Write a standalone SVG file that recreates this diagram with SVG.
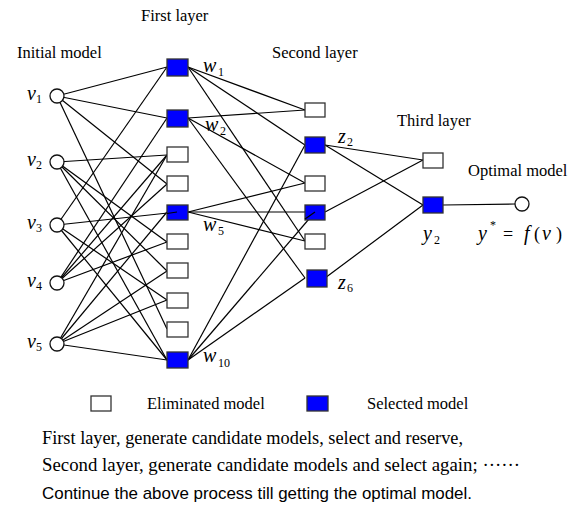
<svg xmlns="http://www.w3.org/2000/svg" width="581" height="523" viewBox="0 0 581 523">
<style>
.t{font-family:"Liberation Serif","Times New Roman",serif;font-size:16.5px;fill:#000}
.m{font-family:"Liberation Serif","Times New Roman",serif;font-style:italic;font-size:20px;fill:#000}
.s{font-family:"Liberation Serif","Times New Roman",serif;font-size:12px;fill:#000}
.b{font-family:"Liberation Serif","Times New Roman",serif;font-size:18px;fill:#000}
.c{font-family:"Liberation Sans",Arial,sans-serif;font-size:17px;fill:#000}
.e{fill:#fff;stroke:#333;stroke-width:1.3}
.f{fill:#0000ff;stroke:#333;stroke-width:1.3}
.n{fill:#fff;stroke:#111;stroke-width:1.3}
.l line{stroke:#000;stroke-width:1.2}
</style>
<rect width="581" height="523" fill="#fff"/>
<g id="connectors" class="l">
<line x1="57" y1="96" x2="167" y2="67"/>
<line x1="57" y1="96" x2="167" y2="118"/>
<line x1="57" y1="96" x2="167" y2="184"/>
<line x1="57" y1="96" x2="167" y2="329"/>
<line x1="57" y1="162" x2="167" y2="155"/>
<line x1="57" y1="162" x2="167" y2="242"/>
<line x1="57" y1="162" x2="167" y2="271"/>
<line x1="57" y1="162" x2="167" y2="360"/>
<line x1="57" y1="225" x2="167" y2="67"/>
<line x1="57" y1="225" x2="177" y2="212"/>
<line x1="57" y1="225" x2="167" y2="300"/>
<line x1="57" y1="225" x2="167" y2="360"/>
<line x1="57" y1="283" x2="167" y2="118"/>
<line x1="57" y1="283" x2="167" y2="155"/>
<line x1="57" y1="283" x2="167" y2="242"/>
<line x1="57" y1="283" x2="167" y2="184"/>
<line x1="57" y1="344" x2="167" y2="212"/>
<line x1="57" y1="344" x2="167" y2="271"/>
<line x1="57" y1="344" x2="167" y2="300"/>
<line x1="57" y1="344" x2="167" y2="360"/>
<line x1="57" y1="344" x2="167" y2="155"/>
<line x1="188" y1="67" x2="305" y2="110"/>
<line x1="188" y1="67" x2="305" y2="145"/>
<line x1="188" y1="67" x2="305" y2="241"/>
<line x1="188" y1="118" x2="305" y2="110"/>
<line x1="188" y1="118" x2="305" y2="183"/>
<line x1="188" y1="118" x2="305" y2="278"/>
<line x1="188" y1="212" x2="305" y2="183"/>
<line x1="188" y1="212" x2="305" y2="212"/>
<line x1="188" y1="212" x2="305" y2="241"/>
<line x1="188" y1="360" x2="305" y2="145"/>
<line x1="188" y1="360" x2="315" y2="212"/>
<line x1="188" y1="360" x2="305" y2="278"/>
<line x1="325" y1="145" x2="423" y2="160"/>
<line x1="325" y1="145" x2="423" y2="205"/>
<line x1="325" y1="212" x2="423" y2="160"/>
<line x1="325" y1="278" x2="423" y2="205"/>
<line x1="443" y1="205" x2="515" y2="204"/>
</g>
<g id="v1"><circle class="n" cx="57" cy="96" r="7"/></g>
<g id="v2"><circle class="n" cx="57" cy="162" r="7"/></g>
<g id="v3"><circle class="n" cx="57" cy="225" r="7"/></g>
<g id="v4"><circle class="n" cx="57" cy="283" r="7"/></g>
<g id="v5"><circle class="n" cx="57" cy="344" r="7"/></g>
<g id="w1"><rect class="f" x="167" y="59" width="21" height="17"/></g>
<g id="w2"><rect class="f" x="167" y="110" width="21" height="17"/></g>
<g id="w3"><rect class="e" x="167" y="147" width="21" height="15"/></g>
<g id="w4"><rect class="e" x="167" y="176" width="21" height="15"/></g>
<g id="w5"><rect class="f" x="167" y="205" width="21" height="15"/></g>
<g id="w6"><rect class="e" x="167" y="234" width="21" height="15"/></g>
<g id="w7"><rect class="e" x="167" y="263" width="21" height="15"/></g>
<g id="w8"><rect class="e" x="167" y="293" width="21" height="15"/></g>
<g id="w9"><rect class="e" x="167" y="322" width="21" height="15"/></g>
<g id="w10"><rect class="f" x="167" y="352" width="21" height="16"/></g>
<line x1="167" y1="213.5" x2="177" y2="212" stroke="#000" stroke-width="1.2"/>
<g id="z1"><rect class="e" x="305" y="103" width="20" height="14"/></g>
<g id="z2"><rect class="f" x="305" y="137" width="20" height="16"/></g>
<g id="z3"><rect class="e" x="305" y="176" width="20" height="15"/></g>
<g id="z4"><rect class="f" x="305" y="205" width="20" height="15"/></g>
<g id="z5"><rect class="e" x="305" y="234" width="20" height="15"/></g>
<g id="z6"><rect class="f" x="307" y="270" width="20" height="17"/></g>
<line x1="305" y1="219" x2="315" y2="212" stroke="#000" stroke-width="1.2"/>
<g id="y1"><rect class="e" x="423" y="153" width="20" height="15"/></g>
<g id="y2"><rect class="f" x="423" y="197" width="20" height="16"/></g>
<g id="optimal"><circle class="n" cx="522" cy="204" r="7"/></g>
<g id="labels">
<text class="t" x="141" y="21">First layer</text>
<text class="t" x="17" y="58">Initial model</text>
<text class="t" x="272" y="58">Second layer</text>
<text class="t" x="397" y="126">Third layer</text>
<text class="t" x="468" y="176" font-size="17">Optimal model</text>
<text class="m" x="27" y="100">v</text><text class="s" x="36" y="103">1</text>
<text class="m" x="27" y="166">v</text><text class="s" x="36" y="169">2</text>
<text class="m" x="27" y="229">v</text><text class="s" x="36" y="232">3</text>
<text class="m" x="27" y="287">v</text><text class="s" x="36" y="290">4</text>
<text class="m" x="27" y="348">v</text><text class="s" x="36" y="351">5</text>
<text class="m" x="203" y="72">w</text><text class="s" x="218" y="76">1</text>
<text class="m" x="205" y="131">w</text><text class="s" x="220" y="135">2</text>
<text class="m" x="203" y="231">w</text><text class="s" x="218" y="235">5</text>
<text class="m" x="203" y="362">w</text><text class="s" x="218" y="367">10</text>
<text class="m" x="338" y="143">z</text><text class="s" x="347" y="146">2</text>
<text class="m" x="338" y="289">z</text><text class="s" x="347" y="292">6</text>
<text class="m" x="423" y="240">y</text><text class="s" x="434" y="244">2</text>
<text class="m" x="478" y="240" font-size="22">y</text><text class="s" x="490" y="229">*</text>
<text class="b" x="503" y="240" font-size="22">=</text>
<text class="m" x="524" y="240" font-size="22">f</text>
<text class="b" x="534" y="240" font-size="22">(</text>
<text class="m" x="542" y="240" font-size="22">v</text>
<text class="b" x="556" y="240" font-size="22">)</text>
</g>
<g id="legend">
<rect class="e" x="91" y="396" width="20" height="15"/>
<text class="t" x="147" y="409" font-size="17">Eliminated model</text>
<rect class="f" x="307" y="396" width="21" height="15"/>
<text class="t" x="367" y="409" font-size="17">Selected model</text>
</g>
<g id="caption">
<text class="b" x="42" y="444" textLength="421" lengthAdjust="spacingAndGlyphs">First layer, generate candidate models, select and reserve,</text>
<text class="b" x="42" y="471" textLength="478" lengthAdjust="spacingAndGlyphs">Second layer, generate candidate models and select again; ······</text>
<text class="c" x="42" y="499" textLength="430" lengthAdjust="spacingAndGlyphs">Continue the above process till getting the optimal model.</text>
</g>
</svg>
